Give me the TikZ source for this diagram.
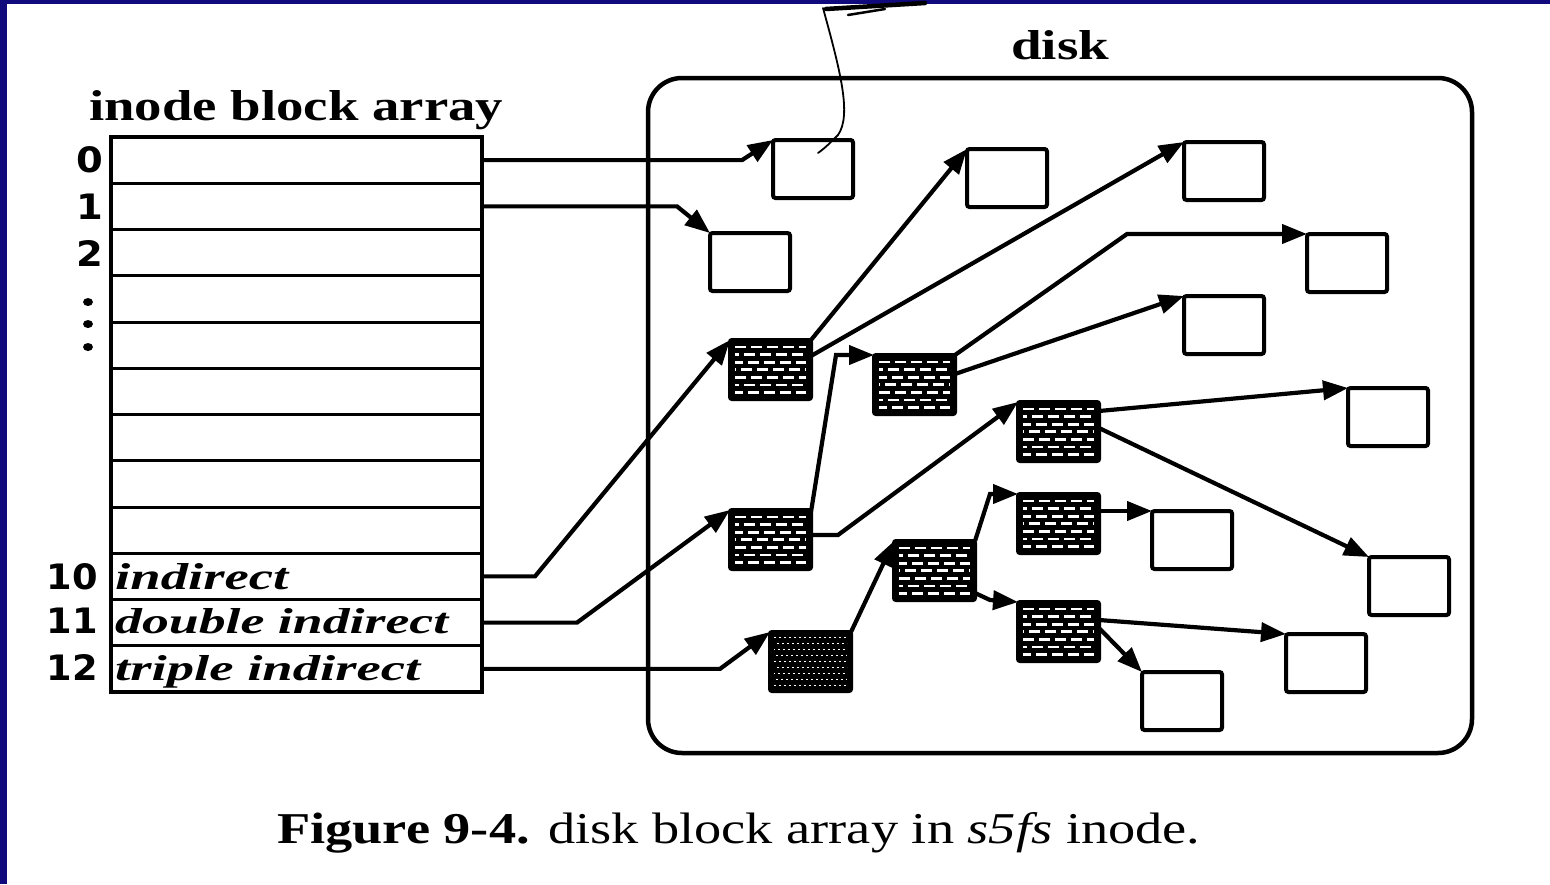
\documentclass[tikz,border=0pt]{standalone}
\usepackage{fontspec}
\setmainfont{Liberation Serif}
\newfontfamily\digitfont{DejaVu Sans}
\usetikzlibrary{arrows.meta}
\definecolor{navy}{RGB}{16,10,125}
\newcommand{\fitto}[3]{\resizebox{#1pt}{#2pt}{#3}}
\begin{document}
\begin{tikzpicture}[x=1pt,y=-1pt,
  conn/.style={line width=4.2pt},
  arr/.style={conn, -{Triangle[length=25pt,width=19pt]}},
  datablk/.style={draw, line width=4pt, rounded corners=2.5pt, minimum width=80pt,
    minimum height=58pt, anchor=north west, inner sep=0pt, outer sep=0pt},
  hatchblk/.style={draw, fill=black, line width=4pt, rounded corners=2pt, minimum width=81pt,
    minimum height=59pt, anchor=north west, inner sep=0pt, outer sep=0pt,
    path picture={
      \foreach \yy/\ph in {7/0,14.6/7,22.2/3,29.8/10,37.4/0,45/7,52.6/3}{
        \draw[white, line width=2.8pt, dash pattern=on 11pt off 5pt, dash phase=\ph pt]
          ([xshift=5pt,yshift=-\yy pt]path picture bounding box.north west) --
          ([xshift=-5pt,yshift=-\yy pt]path picture bounding box.north east);
      }}},
  densehatch/.style={draw, fill=black, line width=4pt, rounded corners=2pt, minimum width=81pt,
    minimum height=59pt, anchor=north west, inner sep=0pt, outer sep=0pt,
    path picture={
      \foreach \yy/\ph in {5/0,11/2,17/1,23/3,29/0,35/2,41/1,47/3,53/0}{
        \draw[white, line width=1pt, dash pattern=on 2pt off 3pt, dash phase=\ph pt]
          ([xshift=4pt,yshift=-\yy pt]path picture bounding box.north west) --
          ([xshift=-4pt,yshift=-\yy pt]path picture bounding box.north east);
      }}},
  rowcell/.style={minimum width=371pt, minimum height=46.25pt, anchor=north west, inner sep=0pt, outer sep=0pt},
  sep/.style={line width=3pt},
  digit/.style={anchor=base east, inner sep=0pt, font=\digitfont\bfseries\fontsize{35}{35}\selectfont},
  lbl/.style={anchor=base west, inner sep=0pt}
]
\useasboundingbox (0,0) rectangle (1550,884);
\fill[white] (0,0) rectangle (1550,884);
\fill[navy] (0,0) rectangle (7,884);
\fill[navy] (0,0) rectangle (1550,4);

% titles
\node[lbl] (ttl) at (89,120) {\fitto{414}{30}{\bfseries inode block array}};
\node[lbl] (dsk) at (1011,59) {\fitto{98}{29}{\bfseries disk}};

% disk outline
\node[draw, line width=4.5pt, rounded corners=34pt, minimum width=824pt, minimum height=675pt,
  anchor=north west, inner sep=0pt, outer sep=0pt] (disk) at (648,78) {};

% inode table
\foreach \i in {0,...,11} \node[rowcell] (r\i) at (111,{137+46.25*\i}) {};
\foreach \i in {0,...,10} \draw[sep] (r\i.south west) -- (r\i.south east);
\node[draw, line width=4.5pt, minimum width=371pt, minimum height=555pt, anchor=north west,
  inner sep=0pt, outer sep=0pt] (tbl) at (111,137) {};

% row numbers
\node[digit] (n0) at (103,172) {\scalebox{1.1}[1]{0}};
\node[digit] (n1) at (103,219) {\scalebox{1.1}[1]{1}};
\node[digit] (n2) at (103,266) {\scalebox{1.1}[1]{2}};
\fill (88,302) ellipse (5 and 4);
\fill (88,324) ellipse (5 and 4);
\fill (88,347) ellipse (5 and 4);
\node[digit] (n10) at (98,589) {\scalebox{1.05}[1]{10}};
\node[digit] (n11) at (98,633) {\scalebox{1.05}[1]{11}};
\node[digit] (n12) at (98,680) {\scalebox{1.05}[1]{12}};

% row texts
\node[lbl] (t10) at (115,589) {\fitto{173}{26}{\bfseries\itshape indirect}};
\node[lbl] (t11) at (115,633) {\fitto{333}{25}{\bfseries\itshape double indirect}};
\node[lbl] (t12) at (115,680) {\fitto{305}{25}{\bfseries\itshape triple indirect}};

% data blocks
\node[datablk] (d0) at (773,140) {};
\node[datablk] (d1) at (710,233) {};
\node[datablk] (d2) at (967,149) {};
\node[datablk] (d3) at (1184,142) {};
\node[datablk] (d4) at (1307,234) {};
\node[datablk] (d5) at (1184,296) {};
\node[datablk] (d6) at (1348,388) {};
\node[datablk] (d7) at (1152,511) {};
\node[datablk] (d8) at (1369,557) {};
\node[datablk] (d9) at (1286,634) {};
\node[datablk] (d10) at (1142,672) {};

% connectors from the inode table
\draw[arr] (r0.east) -- ++(260,0) -- (d0.north west);
\draw[arr] (r1.east) -- ++(195,0) -- (d1.north west);
\draw[arr] (r9.east) -- ++(53,0) -- (730,340);
\draw[arr] (r10.east) -- ++(95,0) -- (730,510);
\draw[arr] (r11.east) -- ++(238,0) -- (770,632);

% indirect blocks
\node[hatchblk] (i1) at (730,340) {};
\node[hatchblk] (di) at (730,510) {};
\node[densehatch] (ti) at (770,632) {};
\node[hatchblk] (i2) at (874,355) {};
\node[hatchblk] (i3) at (1018,402) {};
\node[hatchblk] (i4) at (894,541) {};
\node[hatchblk] (i5) at (1018,494) {};
\node[hatchblk] (i6) at (1018,602) {};

\draw[arr] (i1.north east) -- (d2.north west);
\draw[arr] ([yshift=-16pt]i1.north east) -- (d3.north west);
\draw[arr] ([yshift=-2pt]di.north east) -- (836,355) -- (i2.north west);
\draw[arr] ([yshift=-25pt]di.north east) -- ++(27,0) -- (i3.north west);
\draw[arr] (i2.north east) -- (1127,234) -- (d4.north west);
\draw[arr] ([yshift=-19pt]i2.north east) -- (d5.north west);
\draw[arr] ([yshift=-9pt]i3.north east) -- (d6.north west);
\draw[arr] ([yshift=-26pt]i3.north east) -- (d8.north west);
\draw[arr] (ti.north east) -- (i4.north west);
\draw[arr] (i4.north east) -- (990,494) -- (i5.north west);
\draw[arr] ([yshift=-52pt]i4.north east) -- (990,600) -- (i6.north west);
\draw[arr] ([yshift=-17pt]i5.north east) -- (d7.north west);
\draw[arr] ([yshift=-18pt]i6.north east) -- (d9.north west);
\draw[arr] ([yshift=-26pt]i6.north east) -- (d10.north west);

% handwritten annotation
\draw[line width=1.8pt, line cap=round] (823,8) .. controls (840,70) and (852,115) .. (838,135)
  .. controls (830,143) and (825,148) .. (818,153);
\draw[line width=4.5pt, line cap=round] (826,9) -- (925,3);
\draw[line width=2.5pt, line cap=round] (848,15) -- (885,9);

% caption
\node[lbl] (cap) at (277,843) {\fitto{923}{31}{{\bfseries Figure 9-4.} disk block array in \textit{s5fs} inode.}};
\end{tikzpicture}
\end{document}
